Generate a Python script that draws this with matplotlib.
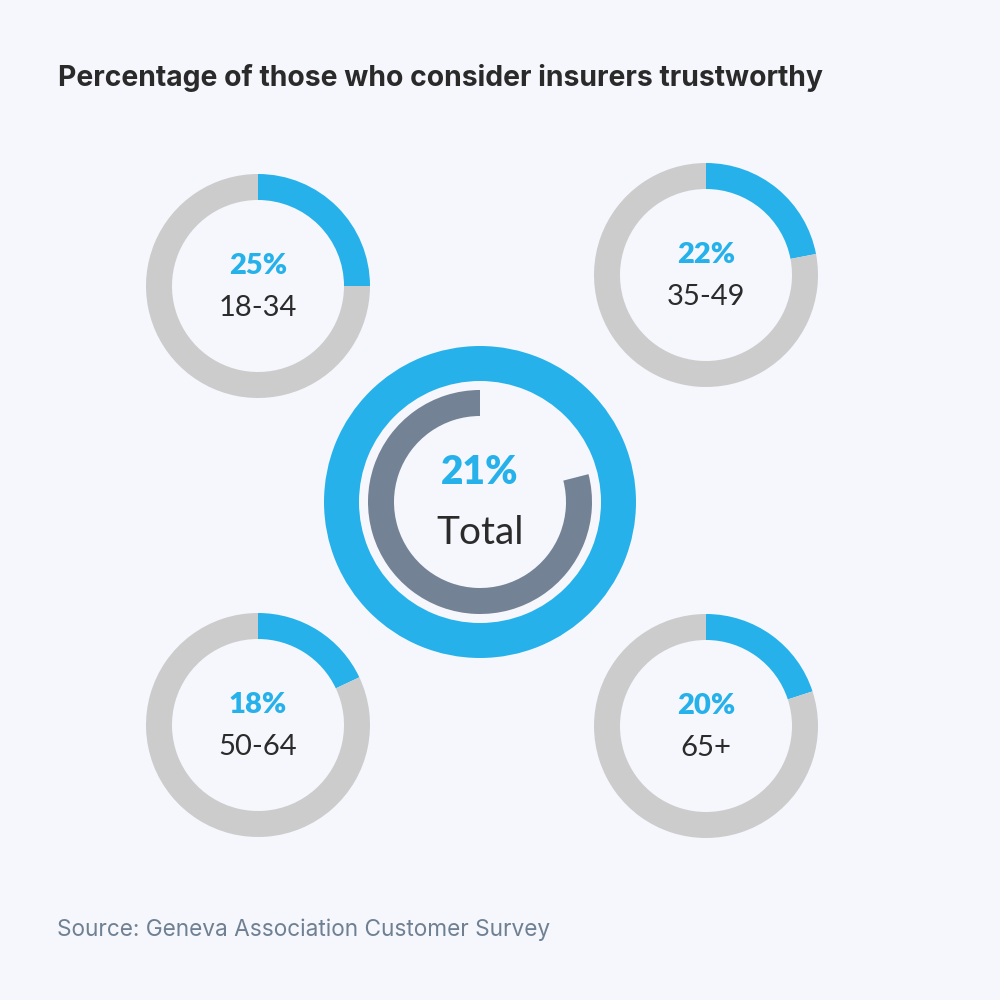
import matplotlib
matplotlib.use("Agg")
import matplotlib.pyplot as plt

# Data
groups = ["18-34", "35-49", "50-64", "65+"]
values = [25, 22, 18, 20]
total_label = "Total"
total_value = 21
title = "Percentage of those who consider insurers trustworthy"
source = "Source: Geneva Association Customer Survey"

BG = "#F5F7FC"
BLUE = "#27B1EB"
GRAY = "#CCCCCC"
SLATE = "#738294"
DARK = "#2B2B2B"

plt.rcParams['font.family'] = ['Lato', 'DejaVu Sans']

fig = plt.figure(figsize=(10, 10), dpi=100, facecolor=BG)
ax = fig.add_axes([0, 0, 1, 1])
ax.set_facecolor(BG)

# pixel-style layout positions (x, y from top)
centers = [(258, 286), (706, 275), (258, 725), (706, 726)]
R_small, W_small = 112, 26

for (cx, cy), g, v in zip(centers, groups, values):
    y = 1000 - cy
    ax.pie([v, 100 - v], colors=[BLUE, GRAY], startangle=90, counterclock=False,
           radius=R_small, center=(cx, y), frame=True,
           wedgeprops=dict(width=W_small, linewidth=0))
    ax.text(cx, y + 20, f"{v}%", ha="center", va="center", color=BLUE,
            fontsize=21, fontweight="heavy")
    ax.text(cx, y - 22, g, ha="center", va="center", color=DARK, fontsize=21)

# central donut
cx, cy = 480, 502
y = 1000 - cy
ax.pie([100], colors=[BLUE], radius=156, center=(cx, y), frame=True,
       wedgeprops=dict(width=35, linewidth=0))
ax.pie([100 - total_value, total_value], colors=[SLATE, "none"], startangle=90,
       counterclock=True, radius=112, center=(cx, y), frame=True,
       wedgeprops=dict(width=26, linewidth=0))
ax.text(cx, y + 30, f"{total_value}%", ha="center", va="center", color=BLUE,
        fontsize=28, fontweight="heavy")
ax.text(cx, y - 31, total_label, ha="center", va="center", color=DARK, fontsize=28)

ax.set_xlim(0, 1000)
ax.set_ylim(0, 1000)
ax.set_aspect("equal")
ax.axis("off")

fig.text(0.058, 1 - 0.078, title, ha="left", va="center", fontsize=20.4,
         fontweight="bold", color="#2A2A2A", family=["Inter", "DejaVu Sans"])
fig.text(0.057, 1 - 0.930, source, ha="left", va="center", fontsize=16.3,
         color="#6F8093", family=["Inter", "DejaVu Sans"])

fig.savefig("out.png", dpi=100, facecolor=BG)
